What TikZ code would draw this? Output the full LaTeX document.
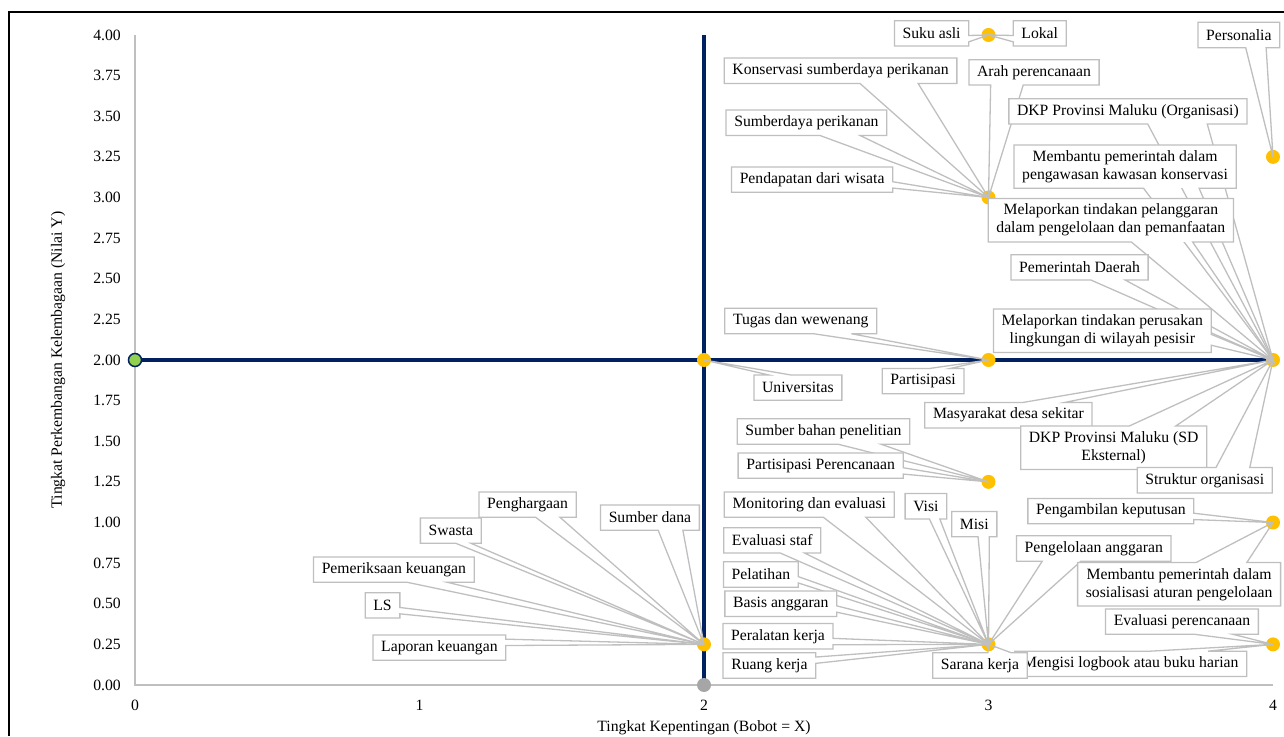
\documentclass[tikz,border=0pt]{standalone}
\usepackage{fontspec}
\setmainfont{Liberation Serif}
\usetikzlibrary{calc}

\definecolor{navy}{HTML}{002060}
\definecolor{amber}{HTML}{FFC000}
\definecolor{leaf}{HTML}{92D050}
\definecolor{axisgray}{HTML}{BFBFBF}
\definecolor{dotgray}{HTML}{A6A6A6}

\tikzset{
  lbl/.style={fill=white, inner xsep=8pt, inner ysep=0pt, minimum height=25pt},
  lbltwo/.style={lbl, align=center, minimum height=43pt},
  leader/.style={draw=axisgray, line width=1.3pt},
}

% label box with a wedge pointing at a data point
\newcommand{\wedgelabel}[5][lbl]{%
  \node[#1] (#2) at (#3) {#4};
  \draw[leader] let \p1=(#2.south west), \p2=(#2.north east), \p3=(#5),
      \n{w}={\x2-\x1}, \n{h}={\y2-\y1},
      \n{dx}={\x3-0.5*\x1-0.5*\x2}, \n{dy}={0.5*\y1+0.5*\y2-\y3},
      \n{dz}={abs(\n{dy})-abs(\n{dx})*\n{h}/\n{w}},
      \n{xa}={\x1+\n{w}*ifthenelse(\n{dx}>0,7,2)/12},
      \n{xb}={\x1+\n{w}*ifthenelse(\n{dx}>0,10,5)/12},
      \n{ya}={\y2-\n{h}*ifthenelse(\n{dy}>0,7,2)/12},
      \n{yb}={\y2-\n{h}*ifthenelse(\n{dy}>0,10,5)/12},
      \n{tx}={ifthenelse(and(\n{dz}>0,\n{dy}<0),\x3,\n{xa})},
      \n{ty}={ifthenelse(and(\n{dz}>0,\n{dy}<0),\y3,\y2)},
      \n{rx}={ifthenelse(and(\n{dz}<0,\n{dx}>0),\x3,\x2)},
      \n{ry}={ifthenelse(and(\n{dz}<0,\n{dx}>0),\y3,\n{ya})},
      \n{bx}={ifthenelse(and(\n{dz}>0,\n{dy}>0),\x3,\n{xa})},
      \n{by}={ifthenelse(and(\n{dz}>0,\n{dy}>0),\y3,\y1)},
      \n{lx}={ifthenelse(and(\n{dz}<0,\n{dx}<0),\x3,\x1)},
      \n{ly}={ifthenelse(and(\n{dz}<0,\n{dx}<0),\y3,\n{ya})}
    in (\x1,\y2) -- (\n{xa},\y2) -- (\n{tx},\n{ty}) -- (\n{xb},\y2) -- (\x2,\y2)
       -- (\x2,\n{ya}) -- (\n{rx},\n{ry}) -- (\x2,\n{yb}) -- (\x2,\y1)
       -- (\n{xb},\y1) -- (\n{bx},\n{by}) -- (\n{xa},\y1) -- (\x1,\y1)
       -- (\x1,\n{yb}) -- (\n{lx},\n{ly}) -- (\x1,\n{ya}) -- cycle;
}

\begin{document}
\begin{tikzpicture}[x=284.5pt, y=162.5pt, font=\fontsize{15.7}{18}\selectfont]
  \useasboundingbox (-135pt,-51pt) rectangle (1149pt,685pt);
  \draw[line width=2pt] (-126pt,-51pt) -- (-126pt,673pt) -- (1149pt,673pt);

  % axes
  \coordinate (o) at (0,0);
  \coordinate (ytop) at (0,4);
  \coordinate (xend) at (4,0);
  \draw[axisgray, line width=1.5pt] (ytop) -- (o) -- (xend);
  \foreach \v in {0.00,0.25,0.50,0.75,1.00,1.25,1.50,1.75,2.00,2.25,2.50,2.75,3.00,3.25,3.50,3.75,4.00}
    \node[anchor=east, inner sep=0pt] at ([xshift=-14pt]0,\v) {\v};
  \foreach \u in {0,...,4}
    \node[inner sep=0pt] at ([yshift=-20pt]\u,0) {\u};
  \node (xtitle) at (2,-0.265) {Tingkat Kepentingan (Bobot = X)};
  \node[rotate=90] (ytitle) at (-0.27,2) {Tingkat Perkembangan Kelembagaan (Nilai Y)};

  % data points
  \coordinate (pt02) at (0,2);
  \coordinate (pt20) at (2,0);
  \coordinate (pt24) at (2,4);
  \coordinate (pt22) at (2,2);
  \coordinate (pt34) at (3,4);
  \coordinate (pt43) at (4,3.25);
  \coordinate (pt33) at (3,3);
  \coordinate (pt32) at (3,2);
  \coordinate (pt42) at (4,2);
  \coordinate (pt31) at (3,1.25);
  \coordinate (pt21) at (2,0.25);
  \coordinate (pt30) at (3,0.25);
  \coordinate (pt41) at (4,1);
  \coordinate (pt40) at (4,0.25);

  \draw[navy, line width=4pt] (pt02) -- (pt42);
  \draw[navy, line width=4pt] (pt20) -- (pt24);

  \filldraw[fill=leaf, draw=navy, line width=1.5pt] (pt02) circle (6.5pt);
  \fill[dotgray] (pt20) circle (7pt);
  \foreach \p in {pt22,pt34,pt43,pt33,pt32,pt42,pt31,pt21,pt30,pt41,pt40}
    \fill[amber] (\p) circle (7pt);

  % labels
  \wedgelabel{suku}{2.80,4.01}{Suku asli}{pt34}
  \wedgelabel{lokal}{3.18,4.01}{Lokal}{pt34}
  \wedgelabel{personalia}{3.88,4.00}{Personalia}{pt43}
  \wedgelabel{konservasi}{2.48,3.78}{Konservasi sumberdaya perikanan}{pt33}
  \wedgelabel{arah}{3.16,3.77}{Arah perencanaan}{pt33}
  \wedgelabel{dkporg}{3.49,3.53}{DKP Provinsi Maluku (Organisasi)}{pt42}
  \wedgelabel{sdikan}{2.36,3.46}{Sumberdaya perikanan}{pt33}
  \wedgelabel[lbltwo]{pengawasan}{3.48,3.19}{Membantu pemerintah dalam\\pengawasan kawasan konservasi}{pt42}
  \wedgelabel{wisata}{2.38,3.11}{Pendapatan dari wisata}{pt33}
  \wedgelabel[lbltwo]{pelanggaran}{3.43,2.86}{Melaporkan tindakan pelanggaran\\dalam pengelolaan dan pemanfaatan}{pt42}
  \wedgelabel{pemda}{3.32,2.57}{Pemerintah Daerah}{pt42}
  \wedgelabel{tugas}{2.34,2.24}{Tugas dan wewenang}{pt32}
  \wedgelabel[lbltwo]{perusakan}{3.40,2.18}{Melaporkan tindakan perusakan\\lingkungan di wilayah pesisir}{pt42}
  \wedgelabel{univ}{2.33,1.83}{Universitas}{pt22}
  \wedgelabel{partisipasi}{2.77,1.87}{Partisipasi}{pt32}
  \wedgelabel{masyarakat}{3.07,1.66}{Masyarakat desa sekitar}{pt42}
  \wedgelabel{penelitian}{2.42,1.56}{Sumber bahan penelitian}{pt31}
  \wedgelabel[lbltwo]{dkpsd}{3.44,1.46}{DKP Provinsi Maluku (SD\\Eksternal)}{pt42}
  \wedgelabel{partrencana}{2.41,1.35}{Partisipasi Perencanaan}{pt31}
  \wedgelabel{struktur}{3.76,1.26}{Struktur organisasi}{pt42}
  \wedgelabel{penghargaan}{1.38,1.11}{Penghargaan}{pt21}
  \wedgelabel{monev}{2.37,1.11}{Monitoring dan evaluasi}{pt30}
  \wedgelabel{visi}{2.78,1.10}{Visi}{pt30}
  \wedgelabel{sumberdana}{1.81,1.03}{Sumber dana}{pt21}
  \wedgelabel{swasta}{1.11,0.95}{Swasta}{pt21}
  \wedgelabel{misi}{2.95,0.99}{Misi}{pt30}
  \wedgelabel{keputusan}{3.43,1.07}{Pengambilan keputusan}{pt41}
  \wedgelabel{evstaf}{2.24,0.89}{Evaluasi staf}{pt30}
  \wedgelabel{kelolaang}{3.37,0.84}{Pengelolaan anggaran}{pt30}
  \wedgelabel{periksa}{0.91,0.71}{Pemeriksaan keuangan}{pt21}
  \wedgelabel[lbltwo]{sosialisasi}{3.67,0.62}{Membantu pemerintah dalam\\sosialisasi aturan pengelolaan}{pt41}
  \wedgelabel{pelatihan}{2.20,0.68}{Pelatihan}{pt30}
  \wedgelabel{ls}{0.87,0.49}{LS}{pt21}
  \wedgelabel{basis}{2.27,0.50}{Basis anggaran}{pt30}
  \wedgelabel{evrencana}{3.68,0.39}{Evaluasi perencanaan}{pt40}
  \wedgelabel{peralatan}{2.26,0.30}{Peralatan kerja}{pt30}
  \wedgelabel{laporan}{1.07,0.23}{Laporan keuangan}{pt21}
  \wedgelabel{logbook}{3.50,0.13}{Mengisi logbook atau buku harian}{pt40}
  \wedgelabel{ruang}{2.23,0.12}{Ruang kerja}{pt30}
  \wedgelabel{sarana}{2.97,0.12}{Sarana kerja}{pt30}
\end{tikzpicture}
\end{document}
